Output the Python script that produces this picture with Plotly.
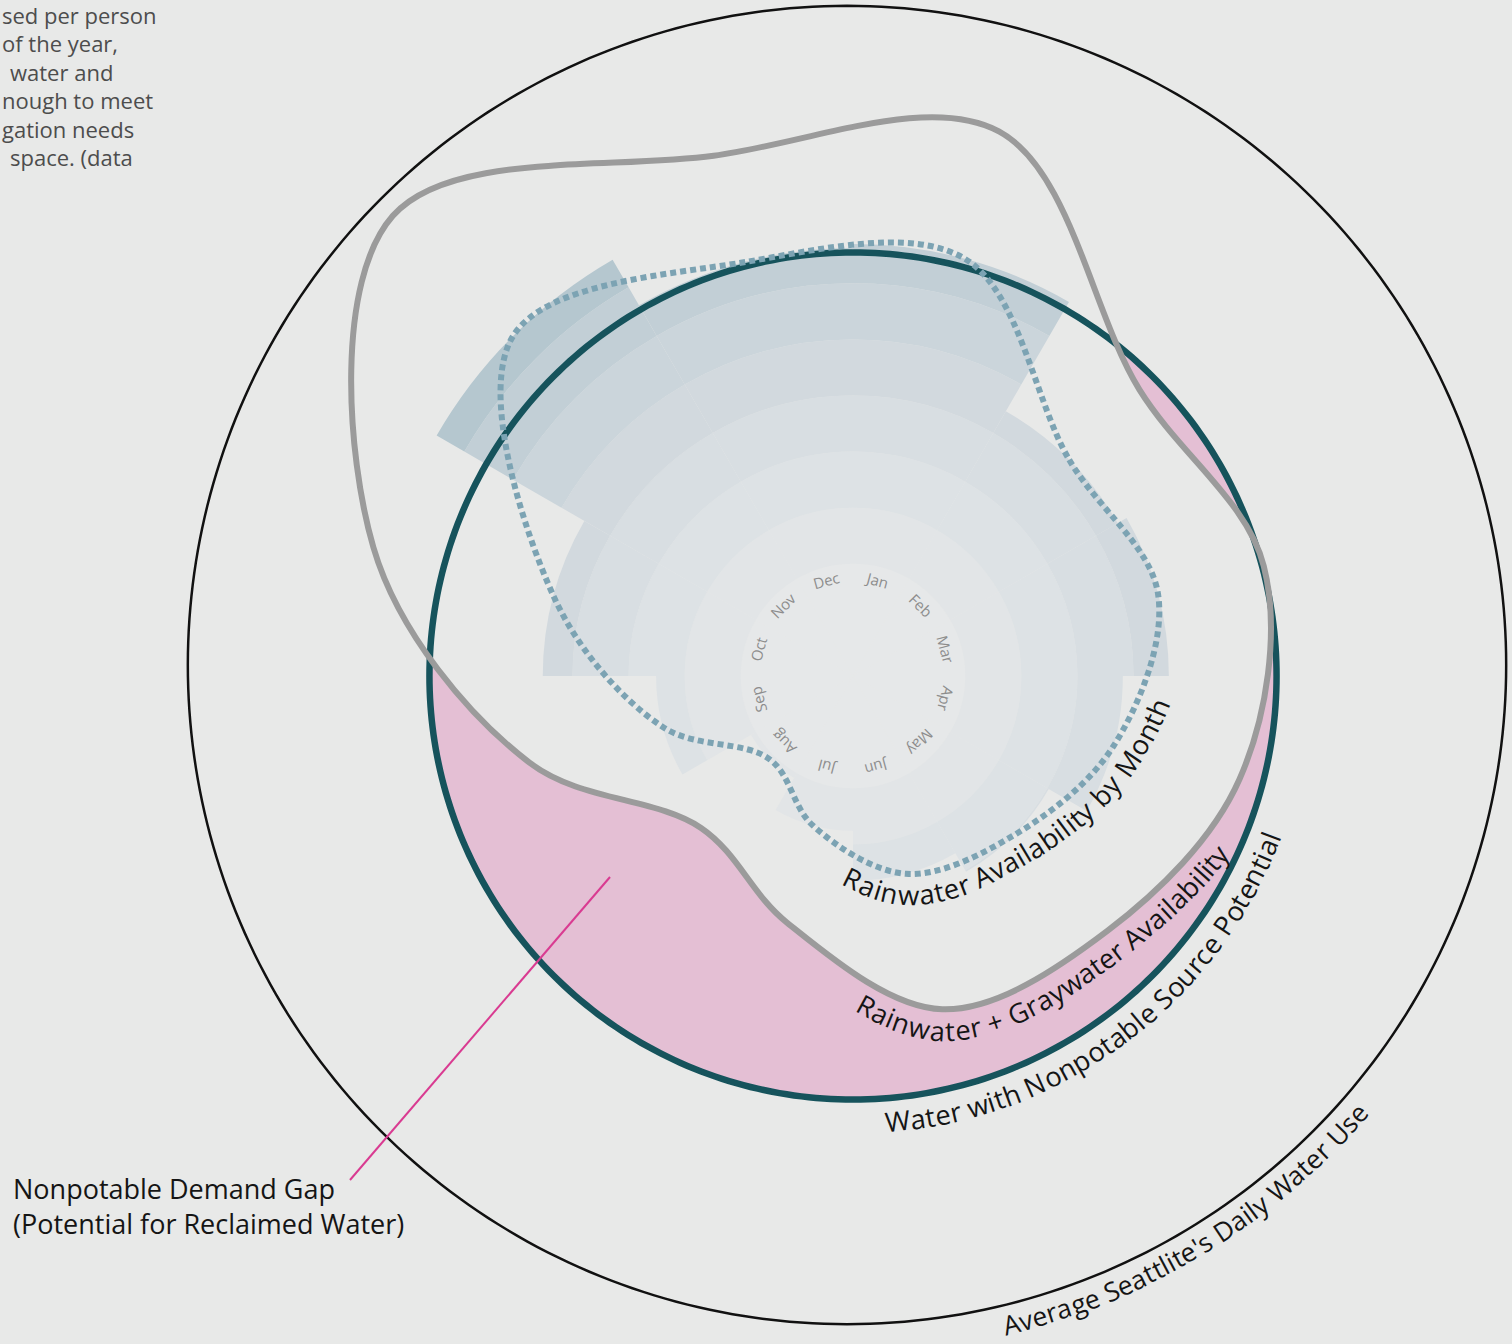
import numpy as np
import plotly.graph_objects as go

W, H = 1512, 1344
PAPER = "#e8e9e8"
FONT = "Open Sans"

# ---------------- data ----------------
months = ["Jan", "Feb", "Mar", "Apr", "May", "Jun", "Jul", "Aug", "Sep", "Oct", "Nov", "Dec"]
month_angle = [15, 45, 75, 105, 135, 165, 195, 225, 255, 285, 315, 345]
rainwater = [7.70, 5.45, 5.63, 4.81, 4.03, 3.65, 2.76, 2.10, 3.51, 5.53, 8.57, 7.63]
rain_plus_graywater = [10.05, 7.22, 7.58, 7.13, 6.42, 6.15, 4.55, 3.83, 5.97, 8.85, 11.60, 9.60]
nonpotable_potential = 7.55
daily_water_use = 11.75
band_edges = [0, 2, 3, 4, 5, 6, 7, 8, 9]

# ---------------- style ----------------
PX = 56.1                       # pixels per radial unit
C_IN, RMAX_IN = (853, 676), 11.74
C_OUT, RMAX_OUT = (847, 665), 11.83
PINK = "#e4bfd4"
TEAL = "#16535c"
GRAY = "#9b9b9b"
DOTS = "#7ca3b3"
SMOOTH = 1.0
band_colors = ["#e6e8e9", "#e2e5e7", "#dde2e5", "#d8dee2", "#d2d9de",
               "#cbd5db", "#c2cfd6", "#b5c7cf"]


def domain(center, rmax):
    r = rmax * PX
    cx, cy = center
    return dict(x=[(cx - r) / W, (cx + r) / W], y=[1 - (cy + r) / H, 1 - (cy - r) / H])


def polar_cfg(center, rmax):
    return dict(
        domain=domain(center, rmax), bgcolor="rgba(0,0,0,0)", hole=0,
        bargap=0, barmode="overlay",
        radialaxis=dict(range=[0, rmax], visible=False, showgrid=False,
                        showline=False, showticklabels=False, ticks=""),
        angularaxis=dict(rotation=90, direction="clockwise", visible=False,
                         showgrid=False, showline=False, showticklabels=False, ticks=""),
    )


def closed(vals):
    return list(vals) + [vals[0]]


ring = list(range(0, 361))
fig = go.Figure()

# layer 1: demand gap (pink disk, cleared inside the rain+graywater curve)
fig.add_trace(go.Scatterpolar(r=[nonpotable_potential] * len(ring), theta=ring, mode="lines",
                              fill="toself", fillcolor=PINK, line=dict(width=0, color=PINK),
                              subplot="polar", hoverinfo="skip"))
fig.add_trace(go.Scatterpolar(r=closed(rain_plus_graywater), theta=closed(month_angle),
                              mode="lines", fill="toself", fillcolor=PAPER,
                              line=dict(width=1, color=PAPER, shape="spline", smoothing=SMOOTH),
                              subplot="polar", hoverinfo="skip", cliponaxis=False))

# layer 2: monthly rainwater bars, shaded in radial bands
for k in range(len(band_edges) - 1):
    lo, hi = band_edges[k], band_edges[k + 1]
    seg = [max(0.0, min(v, hi) - lo) for v in rainwater]
    fig.add_trace(go.Barpolar(r=seg, theta=month_angle, base=[lo] * 12, width=[30] * 12,
                              marker=dict(color=band_colors[k], line=dict(width=0)),
                              subplot="polar2", hoverinfo="skip"))

# layer 3: outlines
fig.add_trace(go.Scatterpolar(r=[nonpotable_potential] * len(ring), theta=ring, mode="lines",
                              line=dict(width=6.5, color=TEAL), subplot="polar3",
                              hoverinfo="skip", cliponaxis=False))
fig.add_trace(go.Scatterpolar(r=closed(rain_plus_graywater), theta=closed(month_angle),
                              mode="lines",
                              line=dict(width=6, color=GRAY, shape="spline", smoothing=SMOOTH),
                              subplot="polar3", hoverinfo="skip", cliponaxis=False))
fig.add_trace(go.Scatterpolar(r=closed(rainwater), theta=closed(month_angle), mode="lines",
                              line=dict(width=6, color=DOTS, shape="spline", dash="6px,4px"),
                              subplot="polar3", hoverinfo="skip", cliponaxis=False))

# layer 4: total daily use
fig.add_trace(go.Scatterpolar(r=[daily_water_use] * len(ring), theta=ring, mode="lines",
                              line=dict(width=2.5, color="#111111"), subplot="polar4",
                              hoverinfo="skip", cliponaxis=False))


# ---------------- curved labels ----------------
CHAR_W = {  # advance widths (em) for the label font
    "a": .556, "b": .613, "c": .476, "d": .613, "e": .561, "f": .339, "g": .548,
    "h": .614, "i": .253, "k": .525, "l": .253, "m": .930, "n": .614, "o": .604,
    "p": .613, "r": .408, "s": .477, "t": .353, "u": .614, "v": .501, "w": .778,
    "y": .502, "A": .633, "D": .722, "G": .708, "M": .903, "N": .756, "P": .595,
    "R": .623, "S": .536, "U": .726, "W": .923, "+": .572, "'": .238, " ": .260,
}


def to_xy(values, angles):
    a = np.radians(angles)
    v = np.asarray(values, dtype=float) * PX
    return np.column_stack([v * np.sin(a), -v * np.cos(a)])


def closed_spline(values, angles, smoothing=1.0, steps=120):
    """Same closed cubic smoothing that plotly applies to a 'spline' line."""
    pts = to_xy(values, angles)
    n = len(pts)
    t_in, t_out = [], []
    for i in range(n):
        prev, cur, nxt = pts[i - 1], pts[i], pts[(i + 1) % n]
        d1, d2 = prev - cur, nxt - cur
        d1a = np.hypot(*d1) ** 0.5
        d2a = np.hypot(*d2) ** 0.5
        num = (d2a ** 2 * d1 - d1a ** 2 * d2) * smoothing
        t_in.append(cur + num / (3 * d2a * (d1a + d2a)))
        t_out.append(cur - num / (3 * d1a * (d1a + d2a)))
    t = np.linspace(0, 1, steps, endpoint=False)[:, None]
    out = []
    for i in range(n):
        j = (i + 1) % n
        p0, p1, p2, p3 = pts[i], t_out[i], t_in[j], pts[j]
        out.append((1 - t) ** 3 * p0 + 3 * (1 - t) ** 2 * t * p1
                   + 3 * (1 - t) * t ** 2 * p2 + t ** 3 * p3)
    return np.vstack(out)


def circle_path(value):
    a = np.radians(np.arange(0, 360, 0.25))
    return np.column_stack([value * PX * np.sin(a), -value * PX * np.cos(a)])


def offset_path(path, offset):
    tang = np.roll(path, -2, axis=0) - np.roll(path, 2, axis=0)
    tang /= np.hypot(tang[:, 0], tang[:, 1])[:, None]
    nv = np.column_stack([-tang[:, 1], tang[:, 0]])
    flip = (nv * path).sum(axis=1) < 0
    nv[flip] *= -1
    return path + nv * offset


def curved_text(text, path, center, th_start, th_end, offset, color):
    path = offset_path(path, offset)[::-1]
    ang = np.degrees(np.arctan2(path[:, 0], -path[:, 1])) % 360
    i0 = int(np.argmin(np.abs((ang - th_start + 180) % 360 - 180)))
    path = np.roll(path, -i0, axis=0)
    ang = np.roll(ang, -i0)
    travel = (th_start - ang) % 360
    travel[travel > 300] -= 360
    span = (th_start - th_end) % 360
    i1 = int(np.argmax(travel >= span))
    seg = np.hypot(*np.diff(path, axis=0).T)
    s = np.concatenate([[0], np.cumsum(seg)])
    L = s[i1]
    em = np.array([CHAR_W.get(c, 0.55) for c in text])
    mids = np.cumsum(em) - em / 2
    size = float(np.clip(L / (mids[-1] - mids[0]), 20, 30))
    pos_s = (mids - mids[0]) / (mids[-1] - mids[0]) * L
    anns = []
    for ch, si in zip(text, pos_s):
        if ch == " ":
            continue
        k = int(min(np.searchsorted(s, si, side="right") - 1, len(path) - 2))
        f = (si - s[k]) / seg[k]
        p = path[k] + f * (path[k + 1] - path[k])
        a, b = max(k - 4, 0), min(k + 5, len(path) - 1)
        tv = path[b] - path[a]
        tv = tv / np.hypot(*tv)
        anns.append(dict(
            text=ch, x=(center[0] + p[0]) / W, y=1 - (center[1] + p[1]) / H,
            xref="paper", yref="paper", showarrow=False,
            textangle=float(np.degrees(np.arctan2(tv[1], tv[0]))),
            xanchor="center", yanchor="middle",
            font=dict(family=FONT, size=size, color=color)))
    return anns


annotations = []
annotations += curved_text("Rainwater Availability by Month",
                           closed_spline(rainwater, month_angle), C_IN,
                           180.0, 96.0, 21, "#151515")
annotations += curved_text("Rainwater + Graywater Availability",
                           closed_spline(rain_plus_graywater, month_angle, SMOOTH), C_IN,
                           177.6, 116.0, 21, "#151515")
annotations += curved_text("Water with Nonpotable Source Potential",
                           circle_path(447 / PX), C_IN, 174.3, 111.0, 0, "#151515")
annotations += curved_text("Average Seattlite's Daily Water Use",
                           circle_path(679 / PX), C_OUT, 166.0, 131.3, 0, "#151515")

# month names around the hub
MC = (852, 674)
for name, a in zip(months, month_angle):
    rad = np.radians(a)
    x = MC[0] + 97 * np.sin(rad)
    y = MC[1] - 97 * np.cos(rad)
    annotations.append(dict(
        text=name, x=x / W, y=1 - y / H, xref="paper", yref="paper", showarrow=False,
        textangle=((a + 180) % 360) - 180, xanchor="center", yanchor="middle",
        font=dict(family=FONT, size=15, color="#8d8d8d")))

# intro paragraph (runs off the left edge)
para = [("sed per person", 0, 15), ("of the year,", 0, 43), ("water and", 8, 72),
        ("nough to meet", 0, 100), ("gation needs", 0, 129), ("space. (data", 8, 157)]
for txt, x0, yc in para:
    annotations.append(dict(
        text=txt, x=x0 / W, y=1 - yc / H, xref="paper", yref="paper", showarrow=False,
        xanchor="left", yanchor="middle",
        font=dict(family=FONT, size=22, color="#4d4d4d")))

annotations.append(dict(
    text="Nonpotable Demand Gap<br>(Potential for Reclaimed Water)",
    x=11 / W, y=1 - 1206 / H, xref="paper", yref="paper", showarrow=False,
    xanchor="left", yanchor="middle", align="left",
    font=dict(family=FONT, size=27, color="#151515")))

shapes = [dict(type="line", xref="paper", yref="paper",
               x0=610 / W, y0=1 - 877 / H, x1=350 / W, y1=1 - 1180 / H,
               line=dict(color="#d93b91", width=2))]

fig.update_layout(
    width=W, height=H, margin=dict(l=0, r=0, t=0, b=0),
    paper_bgcolor=PAPER, plot_bgcolor=PAPER, showlegend=False,
    polar=polar_cfg(C_IN, RMAX_IN),
    polar2=polar_cfg(C_IN, RMAX_IN),
    polar3=polar_cfg(C_IN, RMAX_IN),
    polar4=polar_cfg(C_OUT, RMAX_OUT),
    annotations=annotations, shapes=shapes,
)

fig.write_html("out.html")
